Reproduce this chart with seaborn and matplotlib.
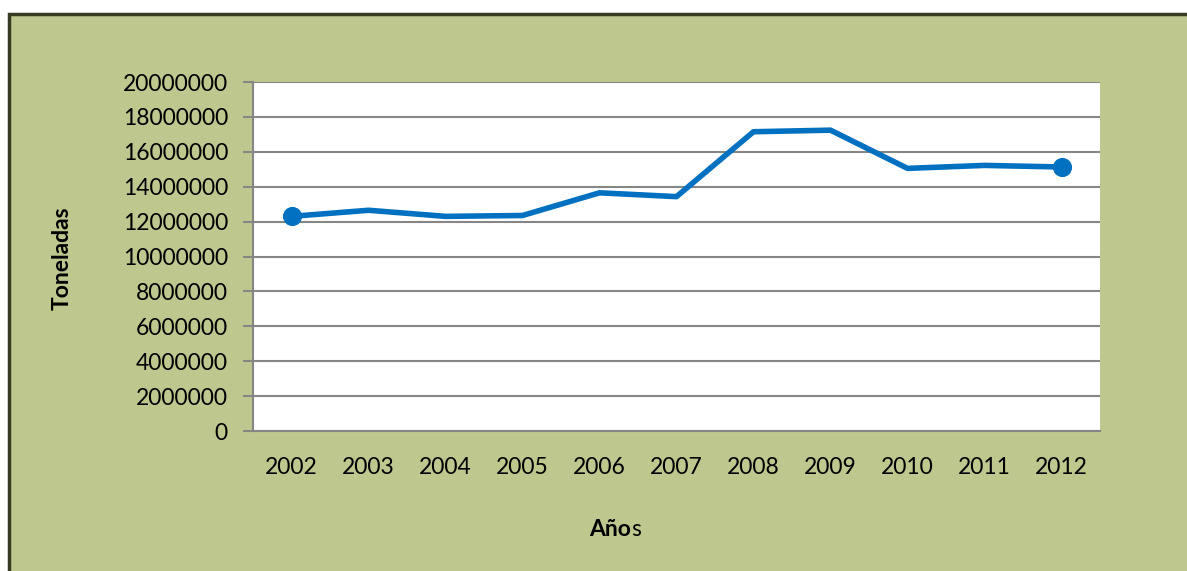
import numpy as np
import pandas as pd
import seaborn as sns
import matplotlib
matplotlib.use("Agg")
from matplotlib import pyplot as plt
from matplotlib.patches import Rectangle

years = ["2002", "2003", "2004", "2005", "2006", "2007", "2008", "2009", "2010", "2011", "2012"]
toneladas = [12300000, 12650000, 12300000, 12350000, 13650000, 13430000,
             17150000, 17240000, 15050000, 15220000, 15130000]
y_ticks = [0, 2000000, 4000000, 6000000, 8000000, 10000000, 12000000,
           14000000, 16000000, 18000000, 20000000]

sns.set_style("white")
plt.rcParams['font.family'] = ['Lato', 'DejaVu Sans']
plt.rcParams['text.color'] = 'black'
plt.rcParams['xtick.color'] = 'black'
plt.rcParams['ytick.color'] = 'black'

bg = '#BDC78E'
grid_col = '#868686'
line_col = '#0070C0'
fs = 16.5

fig = plt.figure(figsize=(11.87, 5.71), dpi=100)
fig.patch.set_facecolor('white')
# green chart area with dark frame
fig.patches.append(Rectangle((8.5 / 1187, -0.05), 1.1, (571 - 13.5) / 571 + 0.05,
                             transform=fig.transFigure, facecolor=bg,
                             edgecolor='#343B20', linewidth=2.5, zorder=-5))

ax = fig.add_axes([253 / 1187, 140 / 571, 847 / 1187, 349 / 571])
ax.set_facecolor('white')

df = pd.DataFrame({'year': years, 'ton': toneladas})
sns.lineplot(data=df, x='year', y='ton', ax=ax, color=line_col, linewidth=4,
             marker='o', markersize=13, markevery=[0, len(years) - 1],
             markeredgecolor=line_col, zorder=3)

ax.set_xlim(-0.5, len(years) - 0.5)
ax.set_ylim(0, 20000000)
ax.set_yticks(y_ticks)
ax.set_yticklabels([str(v) for v in y_ticks])
ax.yaxis.grid(True, color=grid_col, linewidth=1.5)
ax.set_axisbelow(True)

ax.set_xticks(range(len(years)))
ax.set_xticklabels(years)
ax.set_xticks(np.arange(-0.5, len(years)), minor=True)
ax.tick_params(axis='x', which='major', length=0, pad=19, labelsize=fs, labelcolor='black')
ax.tick_params(axis='x', which='minor', length=7, width=1.5, color=grid_col, direction='out')
ax.tick_params(axis='y', length=7, width=1.5, color=grid_col, direction='out',
               left=True, pad=11, labelsize=fs, labelcolor='black')

for s in ['top', 'right']:
    ax.spines[s].set_visible(False)
for s in ['left', 'bottom']:
    ax.spines[s].set_color(grid_col)
    ax.spines[s].set_linewidth(1.5)

ax.set_xlabel('')
ax.set_ylabel('')
fig.text(62 / 1187, 1 - 258 / 571, 'Toneladas', rotation=90, fontsize=fs,
         fontweight='bold', ha='center', va='center', color='black')

# "Años" label: "Año" bold, "s" regular
y_lab = 1 - 536 / 571
t1 = fig.text(589 / 1187, y_lab, 'Año', fontsize=fs, fontweight='bold',
              ha='left', va='baseline', color='black')
fig.canvas.draw()
bb = t1.get_window_extent()
fig.text(bb.x1 / fig.bbox.width, y_lab, 's', fontsize=fs, ha='left',
         va='baseline', color='black')

fig.savefig('out.png', dpi=100, facecolor=fig.get_facecolor())
